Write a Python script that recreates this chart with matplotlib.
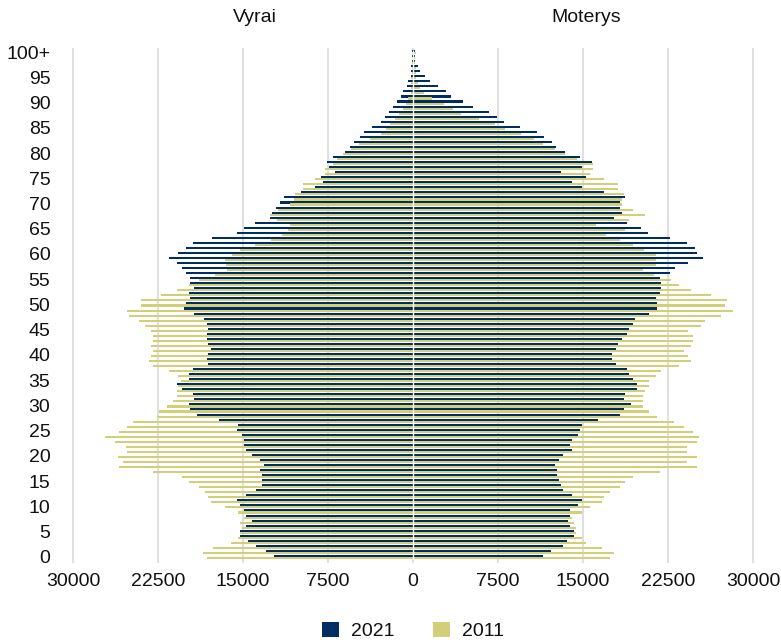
import matplotlib
matplotlib.use("Agg")
import matplotlib.pyplot as plt
from matplotlib.patches import Patch
import numpy as np

# age groups 0 .. 100+ (bottom to top)
AGES = list(range(101))

MALE_2021 = [
    12300, 13000, 13850, 14600, 15300, 15300, 14750, 14200, 14750, 14900,
    15300, 15550, 14750, 13850, 13350, 13350, 13350, 13500, 13150, 13500,
    14200, 14750, 14900, 14900, 15100, 15550, 15450, 17150, 19100, 19650,
    19800, 19300, 19450, 20350, 20800, 19800, 19800, 19450, 18050, 18200,
    18050, 17850, 18050, 18200, 18200, 18050, 18200, 18400, 19300, 20200,
    20000, 19650, 19800, 19300, 19650, 19650, 20000, 20350, 20800, 21500,
    20700, 20000, 19450, 17700, 15550, 14950, 13900, 12650, 12450, 12100,
    11750, 11400, 9900, 8650, 7900, 8100, 6850, 7400, 7600, 7050,
    6000, 5600, 5200, 4650, 4300, 3600, 2850, 2500, 2150, 1800,
    1450, 1100, 900, 550, 400, 200, 200, 150, 100, 50, 50]

MALE_2011 = [
    18200, 18550, 17650, 16100, 15450, 15300, 15100, 15300, 14900, 15450,
    16600, 17850, 18050, 18350, 18900, 19800, 20350, 22900, 25900, 25550,
    26000, 25200, 25350, 26300, 27200, 25950, 25250, 24700, 22550, 22400,
    21700, 21150, 20800, 20800, 20700, 20500, 20700, 21500, 22900, 23300,
    23100, 22900, 23100, 22900, 22900, 23100, 23650, 24200, 25050, 25250,
    24000, 24000, 22200, 20800, 19800, 18900, 17500, 16450, 16500, 16600,
    16000, 15300, 13900, 12500, 11550, 11000, 10850, 12000, 12650, 11900,
    10850, 10500, 10400, 9700, 9700, 8650, 7750, 7750, 7050, 6700,
    6150, 5500, 4800, 3800, 2850, 2350, 2000, 1600, 1200, 900,
    600, 400, 200, 200, 200, 150, 100, 80, 50, 30, 30]

FEMALE_2021 = [
    11450, 12150, 13200, 13600, 14200, 14200, 13850, 13650, 13850, 13850,
    14550, 14900, 14000, 13200, 13050, 12850, 12700, 12700, 12500, 12850,
    13200, 14000, 13850, 14000, 14550, 14750, 14900, 16350, 18300, 18650,
    19250, 18650, 18700, 19800, 19800, 19450, 19100, 18900, 17950, 17550,
    17550, 17950, 18100, 18450, 18900, 19100, 19450, 19600, 20850, 21550,
    21550, 21400, 21750, 21900, 21900, 21750, 22650, 23150, 24300, 25550,
    25050, 24850, 24150, 22650, 20700, 20150, 18900, 17750, 18450, 18300,
    18300, 18700, 16850, 14900, 14000, 15250, 13050, 14900, 15800, 14700,
    13400, 12650, 12300, 11600, 10900, 9450, 8000, 7400, 6700, 5300,
    4400, 3350, 2900, 2200, 1500, 1100, 600, 400, 200, 200, 200]

FEMALE_2011 = [
    17400, 17750, 16700, 15250, 14900, 14400, 14400, 14200, 14000, 14900,
    15600, 16700, 16850, 17400, 18300, 18700, 19450, 21750, 25050, 24150,
    25050, 24150, 24150, 25050, 25200, 24700, 23950, 23000, 21550, 20850,
    20300, 20300, 20300, 20500, 20850, 20850, 21400, 21900, 23500, 24500,
    24300, 23950, 24500, 24700, 24700, 24300, 25400, 25750, 27150, 28200,
    27500, 27700, 26250, 24500, 23500, 22800, 21300, 20300, 21400, 21400,
    21400, 20400, 19450, 18300, 17050, 18700, 16150, 19100, 20500, 19450,
    18450, 18450, 18650, 18100, 18100, 16850, 15600, 15900, 15900, 14500,
    13400, 12500, 11500, 10700, 9500, 8100, 7200, 5800, 4250, 3500,
    2700, 1700, 1000, 600, 400, 250, 250, 250, 150, 150, 300]

TICK_AGES = list(range(0, 101, 5))
TICK_AGE_LABELS = [str(a) for a in range(0, 100, 5)] + ["100+"]
X_TICKS = [-30000, -22500, -15000, -7500, 0, 7500, 15000, 22500, 30000]
X_TICK_LABELS = ["30000", "22500", "15000", "7500", "0",
                 "7500", "15000", "22500", "30000"]
SEX_LABELS = ["Vyrai", "Moterys"]
YEARS = ["2021", "2011"]

COLOR_2021 = "#002D62"
COLOR_2011 = "#D2CF78"
TEXT_COLOR = "#111111"
FONT_SIZE = 14

plt.rcParams['font.family'] = ['Liberation Sans', 'DejaVu Sans']

W, H = 781, 642
fig = plt.figure(figsize=(W / 100, H / 100), dpi=100)
ax = fig.add_axes([56 / W, 1 - 563 / H, 714 / W, 515 / H])

ages = np.array(AGES)
bar_h = 0.41
ax.barh(ages + 0.2, -np.array(MALE_2021), height=bar_h, color=COLOR_2021, linewidth=0, zorder=2)
ax.barh(ages - 0.2, -np.array(MALE_2011), height=bar_h, color=COLOR_2011, linewidth=0, zorder=2)
ax.barh(ages + 0.2, np.array(FEMALE_2021), height=bar_h, color=COLOR_2021, linewidth=0, zorder=2)
ax.barh(ages - 0.2, np.array(FEMALE_2011), height=bar_h, color=COLOR_2011, linewidth=0, zorder=2)
# thin white gap between the two halves
ax.vlines(0, -0.5, 100.5, color="white", linewidth=1.0, zorder=3)

ax.set_xlim(-31500, 31500)
ax.set_ylim(-1.2, 100.8)
ax.set_xticks(X_TICKS, X_TICK_LABELS)
ax.set_yticks(TICK_AGES, TICK_AGE_LABELS)
ax.grid(axis="x", color="#DDDDDD", linewidth=1.3, zorder=0)
ax.set_axisbelow(True)
for s in ax.spines.values():
    s.set_visible(False)
ax.tick_params(axis="both", length=0, labelsize=FONT_SIZE, labelcolor=TEXT_COLOR)
ax.tick_params(axis="y", pad=4)
ax.tick_params(axis="x", pad=7)

fig.text(255 / W, 1 - 17 / H, SEX_LABELS[0], ha="center", va="center",
         fontsize=FONT_SIZE, color=TEXT_COLOR)
fig.text(586 / W, 1 - 17 / H, SEX_LABELS[1], ha="center", va="center",
         fontsize=FONT_SIZE, color=TEXT_COLOR)

handles = [Patch(facecolor=COLOR_2021, label=YEARS[0]),
           Patch(facecolor=COLOR_2011, label=YEARS[1])]
fig.legend(handles=handles, loc="center", bbox_to_anchor=(413 / W, 1 - 631 / H),
           ncol=2, frameon=False, fontsize=FONT_SIZE, handlelength=0.87,
           handleheight=0.87, handletextpad=0.6, columnspacing=2.0,
           labelcolor=TEXT_COLOR)

fig.savefig("out.png", dpi=100)
